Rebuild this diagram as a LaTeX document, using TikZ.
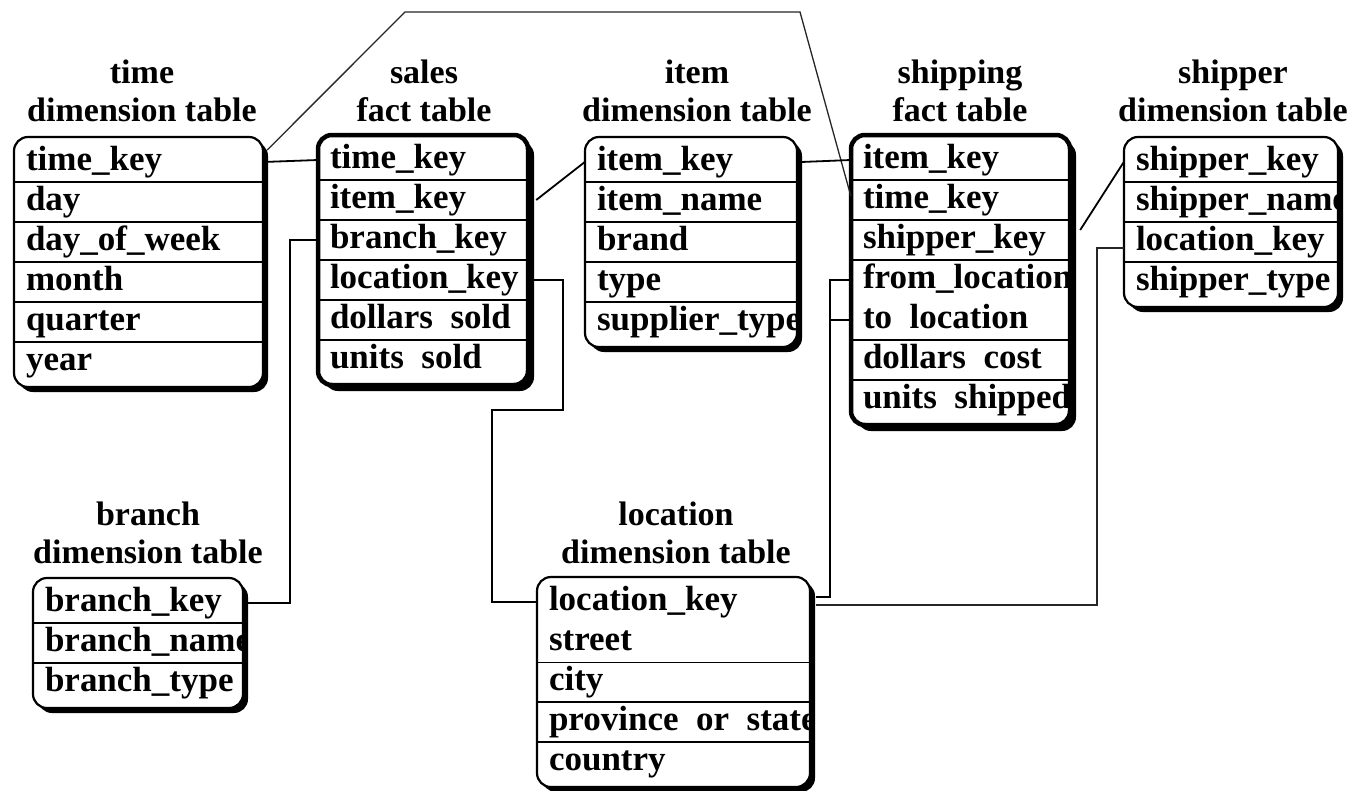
\documentclass[tikz,border=0pt]{standalone}
\usepackage{fontspec}
\setmainfont{Liberation Serif}
\usetikzlibrary{calc}
\tikzset{
  cell/.style={inner sep=0pt, minimum height=40pt, text height=24pt, text depth=8pt, font=\fontsize{35}{38}\selectfont\bfseries},
  ttl/.style={inner sep=0pt, font=\fontsize{34}{38}\selectfont\bfseries, align=center},
  dimborder/.style={draw=black, line width=2.2pt, rounded corners=14pt},
  factborder/.style={draw=black, line width=4.5pt, rounded corners=14pt},
  conn/.style={draw=black, line width=1.8pt},
  thinconn/.style={draw=black!85, line width=1.3pt},
}
% #1 prefix, #2 x0, #3 x1, #4 top, #5 number of rows, #6 border style, #7 shadow offset, #8 rows, #9 separators
\newcommand\dbtable[9]{%
  \pgfmathsetmacro\ybot{#4+10+40*#5}%
  \pgfmathsetmacro\tw{#3-#2-24}%
  \fill[black, rounded corners=14pt] (#2+#7,#4+#7) rectangle (#3+#7,\ybot+#7);
  \fill[white, rounded corners=14pt] (#2,#4) rectangle (#3,\ybot);
  \begin{scope}
    \clip[rounded corners=14pt] (#2,#4) rectangle (#3,\ybot);
    \foreach \txt [count=\k] in {#8} {
      \node[cell, minimum width={#3-#2}] (#1\k) at ({(#2+#3)/2},{#4+5+40*\k-20}) {\makebox[\tw pt][l]{\txt}};
    }
    \foreach \s/\lw in {#9} {
      \draw[line width=\lw pt] (#2,{#4+5+40*\s}) -- (#3,{#4+5+40*\s});
    }
  \end{scope}
  \draw[#6] (#2,#4) rectangle (#3,\ybot);
}
\begin{document}
\begin{tikzpicture}[x=1pt, y=-1pt]
\useasboundingbox[fill=white] (0,0) rectangle (1352,790);

% titles
\node[ttl] (tt) at (142,91) {time\\dimension table};
\node[ttl] (st) at (424,91) {sales\\fact table};
\node[ttl] (it) at (697,91) {item\\dimension table};
\node[ttl] (ht) at (960,91) {shipping\\fact table};
\node[ttl] (pt) at (1233,91) {shipper\\dimension table};
\node[ttl] (bt) at (148,533) {branch\\dimension table};
\node[ttl] (lt) at (676,533) {location\\dimension table};

% tables
\dbtable{t}{14}{263}{137}{6}{dimborder}{5}
  {time\_key, day, day\_of\_week, month, quarter, year}
  {1/1.6, 2/1.6, 3/1.6, 4/1.2, 5/1.6}
\dbtable{s}{318}{528}{135}{6}{factborder}{6}
  {time\_key, item\_key, branch\_key, location\_key, dollars\enspace sold, units\enspace sold}
  {1/1.6, 2/1.6, 3/1.2, 4/1.6, 5/2.2}
\dbtable{i}{585}{797}{137}{5}{dimborder}{5}
  {item\_key, item\_name, brand, type, supplier\_type}
  {1/1.6, 2/1.6, 3/1.6, 4/1.6}
\dbtable{h}{851}{1070}{135}{7}{factborder}{6}
  {item\_key, time\_key, shipper\_key, from\_location, to\enspace location, dollars\enspace cost, units\enspace shipped}
  {1/1.6, 2/1.6, 3/1.2, 5/2.2, 6/1.6}
\dbtable{p}{1124}{1338}{137}{4}{dimborder}{5}
  {shipper\_key, shipper\_name, location\_key, shipper\_type}
  {1/1.6, 2/1.6, 3/1.6}
\dbtable{b}{33}{243}{578}{3}{dimborder}{5}
  {branch\_key, branch\_name, branch\_type}
  {1/1.6, 2/1.6}
\dbtable{l}{537}{810}{577}{5}{dimborder}{5}
  {location\_key, street, city, province\enspace or\enspace state, country}
  {2/1.0, 3/2.4, 4/1.8}

% connector coordinates
\coordinate (ctopL) at (405,12);
\coordinate (ctopR) at (800,12);
\coordinate (bv) at (290,400);
\coordinate (lv1) at (563,410);
\coordinate (lv2) at (492,410);
\coordinate (jn) at (830,597);
\coordinate (rv) at (1097,605);
\coordinate (p3in) at ([yshift=-6pt]p3.west);

% connectors
\draw[conn] (t1.east) -- (s1.west);
\draw[thinconn] ([shift={(4pt,12pt)}]t1.east) -- (ctopL) -- (ctopR) -- ([yshift=4pt]h2.west);
\draw[conn] ([xshift=8pt]s2.east) -- (i1.west);
\draw[conn] (s3.west) -| (bv |- b1.east) -- ([xshift=4pt]b1.east);
\draw[conn] ([xshift=6pt]s4.east) -| (lv1) -- (lv2) |- (l1.west);
\draw[conn] ([xshift=4pt]i1.east) -- (h1.west);
\draw[conn] ([shift={(10pt,10pt)}]h3.east) -- (p1.west);
\draw[conn] (h4.west) -| (jn) -- ([xshift=6pt]jn -| l1.east);
\draw[conn] (h5.west) -- (jn |- h5.west);
\draw[thinconn] ([shift={(6pt,-3pt)}]l1.east) -| (rv |- p3in) -- (p3in);
\end{tikzpicture}
\end{document}
